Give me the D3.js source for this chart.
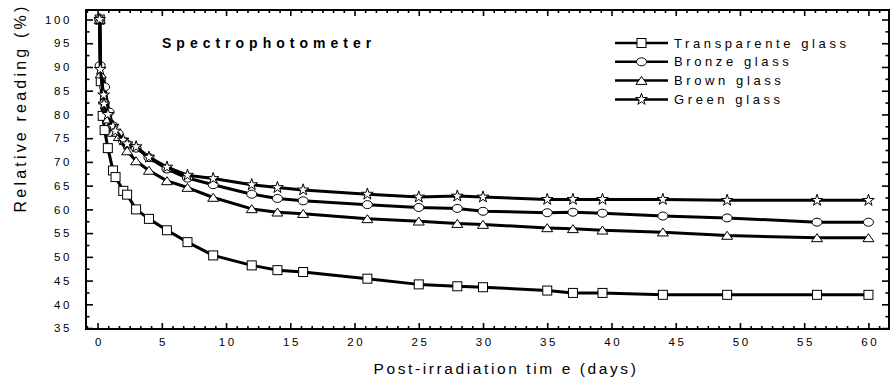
<!DOCTYPE html>
<html>
<head>
<meta charset="utf-8">
<script src="https://cdn.jsdelivr.net/npm/d3@7"></script>
<style>
  html, body { margin: 0; padding: 0; background: #fff; }
  svg { display: block; font-family: "Liberation Sans", Arial, sans-serif; }
</style>
</head>
<body>
<div id="chart"></div>
<script>
// Relative reading (%) vs post-irradiation time (days)
const transDays   = [0.17, 0.25, 0.4, 0.55, 0.8, 1.2, 1.4, 2, 2.3, 3, 4, 5.4, 7, 9, 12, 14, 16, 21, 25, 28, 30, 35, 37, 39.3, 44, 49, 56, 60];
const transValues = [100, 87.0, 79.7, 76.7, 72.9, 68.2, 66.8, 63.9, 63.1, 60.0, 58.0, 55.6, 53.1, 50.3, 48.2, 47.2, 46.8, 45.4, 44.2, 43.8, 43.6, 42.9, 42.4, 42.4, 42.0, 42.0, 42.0, 42.0];

const bronzeDays   = [0.17, 0.2, 0.55, 0.9, 1.2, 1.6, 2, 2.3, 3, 4, 5.4, 7, 9, 12, 14, 16, 21, 25, 28, 30, 35, 37, 39.3, 44, 49, 56, 60];
const bronzeValues = [100, 90.3, 85.8, 80.5, 77.6, 76.0, 74.4, 73.7, 72.9, 70.9, 68.5, 66.6, 65.2, 63.2, 62.3, 61.8, 61.0, 60.4, 60.2, 59.6, 59.3, 59.4, 59.2, 58.6, 58.2, 57.3, 57.3];

const brownDays   = [0.17, 0.25, 0.5, 0.8, 1.2, 1.66, 2.3, 3, 4, 5.4, 7, 9, 12, 14, 16, 21, 25, 28, 30, 35, 37, 39.3, 44, 49, 56, 60];
const brownValues = [100, 88.5, 83.0, 79.0, 76.2, 75.3, 72.3, 70.2, 68.2, 66.0, 64.6, 62.5, 60.1, 59.4, 59.1, 58.0, 57.5, 57.0, 56.8, 56.1, 55.9, 55.6, 55.2, 54.5, 54.0, 54.0];

const greenDays   = [0.17, 0.21, 0.47, 0.5, 0.8, 1.2, 1.38, 2, 2.3, 3, 4, 5.4, 7, 9, 12, 14, 16, 21, 25, 28, 30, 35, 37, 39.3, 44, 49, 56, 60];
const greenValues = [100, 89.5, 84.1, 82.2, 80.0, 77.5, 76.5, 74.6, 73.8, 73.2, 71.0, 68.9, 67.2, 66.5, 65.2, 64.6, 64.1, 63.2, 62.6, 62.8, 62.6, 62.1, 62.1, 62.1, 62.1, 61.9, 61.9, 61.9];

const seriesNames = ["Transparente glass", "Bronze glass", "Brown glass", "Green glass"];
const xTickValues = [0, 5, 10, 15, 20, 25, 30, 35, 40, 45, 50, 55, 60];
const yTickValues = [35, 40, 45, 50, 55, 60, 65, 70, 75, 80, 85, 90, 95, 100];

const width = 896, height = 385;
const plot = { left: 86, right: 889, top: 10, bottom: 329 };

const svg = d3.select("#chart").append("svg")
  .attr("width", width)
  .attr("height", height);

const x = d3.scaleLinear().domain([-0.9, 61.6]).range([plot.left, plot.right]);
const y = d3.scaleLinear().domain([34.8, 102]).range([plot.bottom, plot.top]);

const series = [
  { name: seriesNames[0], days: transDays,  values: transValues,  marker: "square" },
  { name: seriesNames[1], days: bronzeDays, values: bronzeValues, marker: "circle" },
  { name: seriesNames[2], days: brownDays,  values: brownValues,  marker: "triangle" },
  { name: seriesNames[3], days: greenDays,  values: greenValues,  marker: "star" }
];

// minor ticks
const xMinor = [];
for (let i = -1; i <= 74; i++) {
  const v = i * 5 / 6;
  if (i % 6 !== 0 && v > -0.9 && v < 61.6) xMinor.push(v);
}
const yMinor = d3.range(37.5, 100, 5);

const tickFont = g => g.selectAll("text")
  .style("font-size", "11.5px")
  .style("letter-spacing", "2.6px")
  .attr("fill", "#000");

function styleAxis(g) {
  g.select(".domain").remove();
  g.selectAll("line").attr("stroke", "#000").attr("stroke-width", 1.6);
}

// bottom
svg.append("g")
  .attr("transform", `translate(0,${plot.bottom})`)
  .call(d3.axisBottom(x).tickValues(xTickValues).tickSize(-6).tickPadding(9).tickFormat(d3.format("d")))
  .call(styleAxis).call(tickFont)
  .selectAll("text").attr("dx", "1.3px");
svg.append("g")
  .attr("transform", `translate(0,${plot.bottom})`)
  .call(d3.axisBottom(x).tickValues(xMinor).tickSize(-3).tickFormat(""))
  .call(styleAxis);

// top
svg.append("g")
  .attr("transform", `translate(0,${plot.top})`)
  .call(d3.axisTop(x).tickValues(xTickValues).tickSize(-6).tickFormat(""))
  .call(styleAxis);
svg.append("g")
  .attr("transform", `translate(0,${plot.top})`)
  .call(d3.axisTop(x).tickValues(xMinor).tickSize(-3).tickFormat(""))
  .call(styleAxis);

// left
svg.append("g")
  .attr("transform", `translate(${plot.left},0)`)
  .call(d3.axisLeft(y).tickValues(yTickValues).tickSize(-7).tickPadding(14).tickFormat(d3.format("d")))
  .call(styleAxis).call(tickFont);
svg.append("g")
  .attr("transform", `translate(${plot.left},0)`)
  .call(d3.axisLeft(y).tickValues(yMinor).tickSize(-3.5).tickFormat(""))
  .call(styleAxis);

// right
svg.append("g")
  .attr("transform", `translate(${plot.right},0)`)
  .call(d3.axisRight(y).tickValues(yTickValues).tickSize(-7).tickFormat(""))
  .call(styleAxis);
svg.append("g")
  .attr("transform", `translate(${plot.right},0)`)
  .call(d3.axisRight(y).tickValues(yMinor).tickSize(-3.5).tickFormat(""))
  .call(styleAxis);

// frame
svg.append("rect")
  .attr("x", plot.left).attr("y", plot.top)
  .attr("width", plot.right - plot.left).attr("height", plot.bottom - plot.top)
  .attr("fill", "none").attr("stroke", "#000").attr("stroke-width", 2);

// markers
function drawMarker(g, type, cx, cy) {
  if (type === "circle") {
    g.append("ellipse").attr("cx", cx).attr("cy", cy).attr("rx", 5).attr("ry", 4)
      .attr("fill", "#fff").attr("stroke", "#000").attr("stroke-width", 1);
  } else if (type === "square") {
    g.append("rect").attr("x", cx - 4.5).attr("y", cy - 4.5).attr("width", 9).attr("height", 9)
      .attr("fill", "#fff").attr("stroke", "#000").attr("stroke-width", 1);
  } else if (type === "triangle") {
    g.append("path").attr("d", `M${cx - 5.5},${cy + 3.8}L${cx + 5.5},${cy + 3.8}L${cx},${cy - 4.2}Z`)
      .attr("fill", "#fff").attr("stroke", "#000").attr("stroke-width", 1);
  } else {
    g.append("path").attr("d", d3.symbol(d3.symbolStar, 42)())
      .attr("transform", `translate(${cx},${cy})`)
      .attr("fill", "#fff").attr("stroke", "#000").attr("stroke-width", 1);
  }
}

const line = d3.line().x(d => x(d[0])).y(d => y(d[1]));

series.forEach(s => {
  const pts = s.days.map((d, i) => [d, s.values[i]]);
  svg.append("path").datum(pts)
    .attr("fill", "none").attr("stroke", "#000").attr("stroke-width", 3)
    .attr("stroke-linejoin", "round")
    .attr("d", line);
  const g = svg.append("g");
  pts.forEach(p => drawMarker(g, s.marker, x(p[0]), y(p[1])));
});

// title inside plot
svg.append("text")
  .attr("x", 162).attr("y", 48)
  .style("font-size", "14px").style("font-weight", "bold").style("letter-spacing", "5px")
  .text("Spectrophotometer");

// legend
const legend = svg.append("g");
series.forEach((s, i) => {
  const ly = 43 + i * 18.8;
  legend.append("line").attr("x1", 615).attr("x2", 668).attr("y1", ly).attr("y2", ly)
    .attr("stroke", "#000").attr("stroke-width", 2.5);
  drawMarker(legend, s.marker, 641.5, ly);
  legend.append("text").attr("x", 674).attr("y", ly + 4.5)
    .style("font-size", "13px").style("letter-spacing", "3.6px")
    .text(s.name);
});

// axis titles
svg.append("text")
  .attr("transform", "translate(26,108) rotate(-90)")
  .attr("text-anchor", "middle")
  .style("font-size", "16px").style("letter-spacing", "3.2px")
  .text("Relative reading (%)");

svg.append("text")
  .attr("x", 506).attr("y", 374)
  .attr("text-anchor", "middle")
  .style("font-size", "15.5px").style("letter-spacing", "2.6px")
  .text("Post-irradiation tim e (days)");
</script>
</body>
</html>
